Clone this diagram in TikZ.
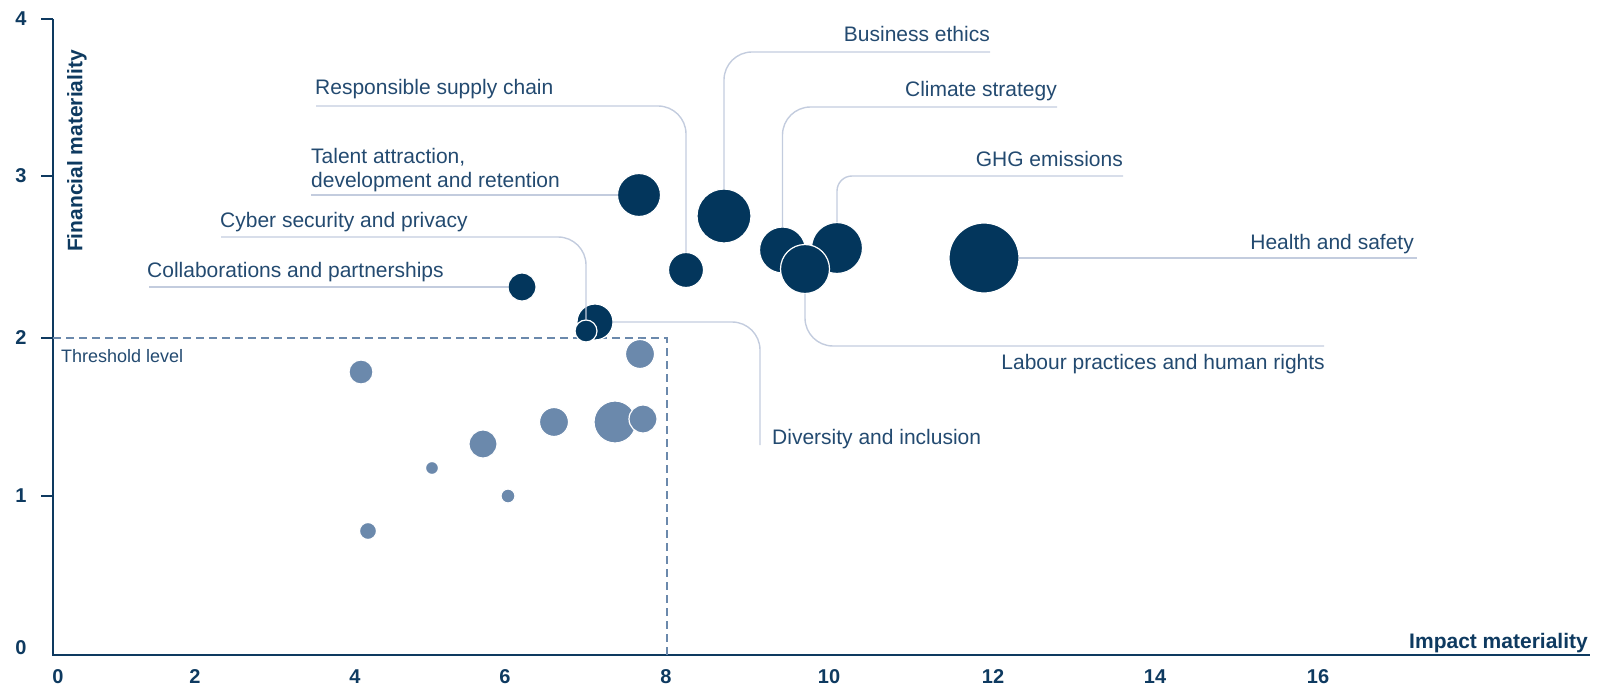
\documentclass[tikz,border=0pt]{standalone}
\usepackage{fontspec}
\setmainfont{Liberation Sans}
\usetikzlibrary{positioning}
\definecolor{navy}{HTML}{03365C}
\definecolor{steel}{HTML}{6B89AC}
\definecolor{leadgrey}{HTML}{C3CCDE}
\definecolor{labelblue}{HTML}{234A70}
\definecolor{axisblue}{HTML}{0E3A60}
\tikzset{
	bubble/.style={circle,draw=white,line width=1.2pt,inner sep=0pt,outer sep=0pt,minimum size=#1},
	topic/.style={text=labelblue,inner sep=0pt,font=\fontsize{21}{24}\selectfont},
	lead/.style={draw=leadgrey,line width=1.4pt,rounded corners=28pt},
	ticklabel/.style={text=axisblue,inner sep=0pt,font=\fontsize{20}{24}\selectfont\bfseries},
	axistitle/.style={text=axisblue,inner sep=0pt,font=\fontsize{21}{24}\selectfont\bfseries}
}
\begin{document}
\begin{tikzpicture}[x=1pt,y=-1pt]
	\useasboundingbox (0,0) rectangle (1609,687);
	\draw[axisblue,line width=1.5pt] (53,19) -- (53,655) -- (1590,655);
	\foreach \val/\ypos in {4/19,3/176,2/338,1/496}
		{\draw[axisblue,line width=1.3pt] (41,\ypos) -- (53,\ypos);
		\node[ticklabel] (ylab\val) at (21,\ypos) {\val};}
	\node[ticklabel] (ylab0) at (21,648) {0};
	\foreach \val/\xpos in {0/58,2/195,4/355,6/505,8/666,10/829,12/993,14/1155,16/1318}
		\node[ticklabel] (xlab\val) at (\xpos,677) {\val};
	\node[axistitle,rotate=90] (ytitle) at (77,151) {Financial materiality};
	\node[axistitle,anchor=base east] (xtitle) at (1588,648) {Impact materiality};
	
	\draw[steel,line width=1.5pt,dash pattern=on 8pt off 5pt] (53,338) -| (667,655);
	\node[topic,font=\fontsize{18}{22}\selectfont,anchor=base west] (threshold) at (61,362) {Threshold level};
	
	\begin{scope}[every node/.append style={fill=steel}]
		\node[bubble=24pt] (low1) at (361,372) {};
		\node[bubble=29pt] (low2) at (640,354) {};
		\node[bubble=28pt] (low3) at (483,444) {};
		\node[bubble=29pt] (low4) at (554,422) {};
		\node[bubble=42pt] (low5) at (615,422) {};
		\node[bubble=28pt] (low6) at (643,419) {};
		\node[bubble=13pt] (low7) at (432,468) {};
		\node[bubble=14pt] (low8) at (508,496) {};
		\node[bubble=17pt] (low9) at (368,531) {};
	\end{scope}
	\begin{scope}[every node/.append style={fill=navy}]
		\node[bubble=43pt] (talent) at (639,195) {};
		\node[bubble=54pt] (ethics) at (724,216) {};
		\node[bubble=35pt] (supply) at (686,270) {};
		\node[bubble=28pt] (collab) at (522,287) {};
		\node[bubble=36pt] (diversity) at (595,322) {};
		\node[bubble=22pt] (cyber) at (586,331) {};
		\node[bubble=46pt] (climate) at (782.5,250) {};
		\node[bubble=51pt] (ghg) at (837,248) {};
		\node[bubble=49pt] (labour) at (805,269) {};
		\node[bubble=70pt] (health) at (984,258) {};
	\end{scope}
	
	\coordinate (supplyend) at (316,106);
	\coordinate (talentend) at (311,195);
	\coordinate (cyberend) at (221,237);
	\coordinate (collabend) at (149,287);
	\coordinate (ethicsend) at (990,52);
	\coordinate (climateend) at (1057,107);
	\coordinate (ghgend) at (1123,176);
	\coordinate (healthend) at (1417,258);
	\coordinate (labourend) at (1324,346);
	\coordinate (diversityend) at (760,445);
	
	\draw[lead] (supplyend) -| (supply.north);
	\draw[lead] (talentend) -- (talent.west);
	\draw[lead] (cyberend) -| (cyber.north);
	\draw[lead] (collabend) -- (collab.west);
	\draw[lead] (ethics.north) |- (ethicsend);
	\draw[lead] (climate.north) |- (climateend);
	\draw[lead,rounded corners=15pt] (ghg.north) |- (ghgend);
	\draw[lead] (health.east) -- (healthend);
	\draw[lead] (labour.south) |- (labourend);
	\draw[lead] (diversity.east) -| (diversityend);
	
	\node[topic,anchor=base west] (supplylab) at (315,95) {Responsible supply chain};
	\node[topic,anchor=north west,align=left] (talentlab) at (311,148) {Talent attraction,\\development and retention};
	\node[topic,anchor=base west] (cyberlab) at (220,228) {Cyber security and privacy};
	\node[topic,anchor=base west] (collablab) at (147,277) {Collaborations and partnerships};
	\node[topic,anchor=base east] (ethicslab) at (990,42) {Business ethics};
	\node[topic,anchor=base east] (climatelab) at (1057,97) {Climate strategy};
	\node[topic,anchor=base east] (ghglab) at (1123,167) {GHG emissions};
	\node[topic,anchor=base east] (healthlab) at (1414,250) {Health and safety};
	\node[topic,anchor=base east] (labourlab) at (1325,369) {Labour practices and human rights};
	\node[topic,anchor=base west] (diversitylab) at (772,444) {Diversity and inclusion};
\end{tikzpicture}
\end{document}
